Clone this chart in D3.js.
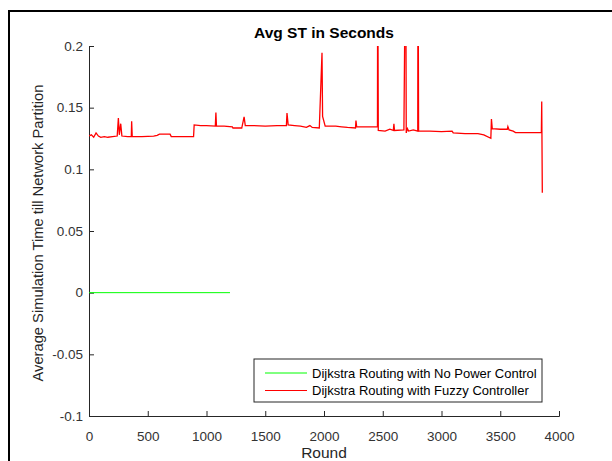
<!DOCTYPE html>
<html>
<head>
<meta charset="utf-8">
<script src="https://cdn.jsdelivr.net/npm/d3@7"></script>
<style>
  body { margin: 0; background: #fff; }
  svg { display: block; font-family: "Liberation Sans", Arial, sans-serif; }
  .tick text { fill: #333; font-size: 13.5px; }
  .tick line, .domain { stroke: #262626; }
</style>
</head>
<body>
<div id="main"></div>
<script>
// values
const xTicks = [0, 500, 1000, 1500, 2000, 2500, 3000, 3500, 4000];
const yTicks = [-0.1, -0.05, 0, 0.05, 0.1, 0.15, 0.2];
const yTickLabels = ["-0.1", "-0.05", "0", "0.05", "0.1", "0.15", "0.2"];

const greenRounds = [0, 1200];
const greenValues = [0, 0];

const redRounds = [0, 20, 40, 60, 80, 100, 130, 160, 200, 240, 250, 258, 270, 280, 330, 360, 363, 368,
  450, 550, 580, 600, 690, 700, 800, 890, 895, 950, 1000, 1075, 1080, 1085, 1150, 1220, 1225, 1300,
  1320, 1330, 1400, 1500, 1600, 1680, 1685, 1695, 1750, 1800, 1850, 1880, 1900, 1960, 1983, 1988,
  2010, 2100, 2150, 2200, 2268, 2272, 2278, 2350, 2455, 2457, 2462, 2520, 2560, 2590, 2595, 2600,
  2680, 2695, 2700, 2710, 2720, 2760, 2798, 2800, 2805, 2900, 3000, 3090, 3100, 3200, 3310, 3360,
  3420, 3425, 3432, 3500, 3560, 3565, 3575, 3610, 3630, 3700, 3800, 3850, 3853, 3858];
const redValues = [0.127, 0.128, 0.126, 0.1295, 0.127, 0.126, 0.1265, 0.126, 0.1265, 0.127, 0.1415, 0.128, 0.137, 0.127, 0.1265, 0.1265, 0.139, 0.1265,
  0.1265, 0.127, 0.1275, 0.1285, 0.1285, 0.1265, 0.1265, 0.1265, 0.136, 0.1355, 0.1355, 0.135, 0.146, 0.135, 0.135, 0.1345, 0.1335, 0.1335,
  0.1425, 0.1355, 0.1355, 0.135, 0.1355, 0.1355, 0.1457, 0.136, 0.1355, 0.135, 0.134, 0.1355, 0.134, 0.1335, 0.1946, 0.143,
  0.135, 0.135, 0.1345, 0.134, 0.1335, 0.1395, 0.1345, 0.1345, 0.1345, 0.3, 0.1315, 0.131, 0.1325, 0.1315, 0.137, 0.1315,
  0.132, 0.3, 0.1295, 0.133, 0.131, 0.132, 0.131, 0.3, 0.131, 0.131, 0.1305, 0.131, 0.1295, 0.129, 0.129, 0.128,
  0.1252, 0.1408, 0.133, 0.1325, 0.1325, 0.1346, 0.132, 0.131, 0.1298, 0.1298, 0.1298, 0.1298, 0.155, 0.081];

const seriesNames = ["Dijkstra Routing with No Power Control", "Dijkstra Routing with Fuzzy Controller"];
const seriesColors = ["#00ff00", "#ff0000"];

const w = 612;
const h = 461;
const margin = { top: 46, right: 53, bottom: 45, left: 89 };

const svg = d3.select("#main").append("svg")
  .attr("width", w)
  .attr("height", h);

// figure frame
svg.append("path")
  .attr("d", "M9,461 V11 H612")
  .attr("fill", "none")
  .attr("stroke", "#000")
  .attr("stroke-width", 2);

const xScale = d3.scaleLinear().domain([0, 4000]).range([margin.left, w - margin.right]);
const yScale = d3.scaleLinear().domain([-0.1, 0.2]).range([h - margin.bottom, margin.top]);

svg.append("clipPath").attr("id", "plotclip")
  .append("rect")
  .attr("x", margin.left)
  .attr("y", margin.top)
  .attr("width", xScale(4000) - margin.left)
  .attr("height", yScale(-0.1) - margin.top);

// axes, ticks pointing inward like matlab
const xAxis = d3.axisTop(xScale).tickValues(xTicks).tickSize(5).tickSizeOuter(5).tickFormat(d3.format("d"));
const yAxis = d3.axisRight(yScale).tickValues(yTicks).tickSize(5).tickSizeOuter(5)
  .tickFormat((d, i) => yTickLabels[i]);

const gx = svg.append("g")
  .attr("transform", "translate(0," + yScale(-0.1) + ")")
  .call(xAxis);
gx.selectAll(".tick text").attr("y", 15).attr("dy", "0.71em");

const gy = svg.append("g")
  .attr("transform", "translate(" + xScale(0) + ",0)")
  .call(yAxis);
gy.selectAll(".tick text").attr("x", -6).attr("text-anchor", "end");
svg.selectAll(".domain").attr("stroke-width", 1);
svg.selectAll("g text").attr("font-family", null).attr("font-size", null);

const line = d3.line()
  .x(d => xScale(d[0]))
  .y(d => yScale(d[1]));

const plot = svg.append("g").attr("clip-path", "url(#plotclip)");

plot.append("path")
  .datum(greenRounds.map((r, i) => [r, greenValues[i]]))
  .attr("d", line)
  .attr("fill", "none")
  .attr("stroke", seriesColors[0])
  .attr("stroke-width", 1);

plot.append("path")
  .datum(redRounds.map((r, i) => [r, redValues[i]]))
  .attr("d", line)
  .attr("fill", "none")
  .attr("stroke", seriesColors[1])
  .attr("stroke-width", 1.3)
  .attr("stroke-linejoin", "miter");

// title and labels
svg.append("text")
  .attr("x", 324)
  .attr("y", 38)
  .attr("text-anchor", "middle")
  .attr("font-size", "15.5px")
  .attr("font-weight", "bold")
  .attr("fill", "#000")
  .text("Avg ST in Seconds");

svg.append("text")
  .attr("x", 324)
  .attr("y", 458)
  .attr("text-anchor", "middle")
  .attr("font-size", "15.5px")
  .attr("fill", "#262626")
  .text("Round");

svg.append("text")
  .attr("transform", "translate(43," + (yScale(0.05) + 2) + ") rotate(-90)")
  .attr("text-anchor", "middle")
  .attr("font-size", "14.7px")
  .attr("fill", "#262626")
  .text("Average Simulation Time till Network Partition");

// legend
const legend = svg.append("g").attr("transform", "translate(254,359)");
legend.append("rect")
  .attr("width", 288)
  .attr("height", 43)
  .attr("fill", "#fff")
  .attr("stroke", "#262626")
  .attr("stroke-width", 1);

seriesNames.forEach((name, i) => {
  const yy = 14 + i * 17.5;
  legend.append("line")
    .attr("x1", 11).attr("x2", 53)
    .attr("y1", yy).attr("y2", yy)
    .attr("stroke", seriesColors[i])
    .attr("stroke-width", 1);
  legend.append("text")
    .attr("x", 58)
    .attr("y", yy)
    .attr("dy", "0.35em")
    .attr("font-size", "13px")
    .attr("fill", "#000")
    .text(name);
});
</script>
</body>
</html>
